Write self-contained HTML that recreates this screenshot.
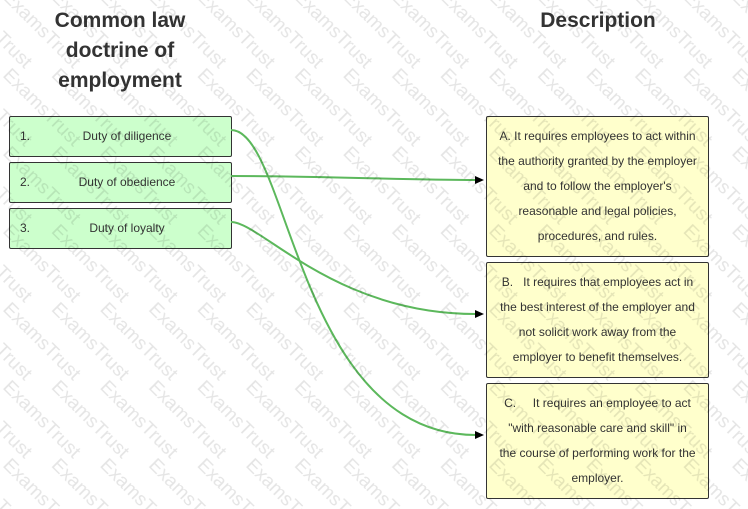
<!DOCTYPE html>
<html>
<head>
<meta charset="utf-8">
<style>
  html, body { margin:0; padding:0; background:#fff; }
  body { width:748px; height:509px; position:relative; overflow:hidden;
         font-family:"Liberation Sans", Arial, sans-serif; color:#333; }
  .hdr { position:absolute; font-weight:bold; font-size:21px; line-height:30px;
         text-align:center; color:#333; white-space:nowrap; }
  .lb { position:absolute; left:9px; width:223px; height:41px; box-sizing:border-box;
        background:#ccffcc; border:1px solid #333; border-radius:2px; font-size:12px; }
  .lb .n { position:absolute; left:10px; top:0; line-height:39px; }
  .lb .t { position:absolute; left:22px; width:190px; top:0; line-height:39px; text-align:center; white-space:nowrap; }
  .rb { position:absolute; left:486px; width:223px; box-sizing:border-box;
        background:#ffffcc; border:1px solid #333; border-radius:2px; font-size:12px;
        line-height:25px; text-align:center; white-space:nowrap;
        display:flex; align-items:center; justify-content:center; color:#333; }
  svg { position:absolute; left:0; top:0; }
</style>
</head>
<body>
  <div class="hdr" style="left:0; width:240px; top:6px;">Common law<br>doctrine of<br>employment</div>
  <div class="hdr" style="left:498px; width:200px; top:6px;">Description</div>

  <div class="lb" style="top:116px;"><span class="n">1.</span><span class="t">Duty of diligence</span></div>
  <div class="lb" style="top:162px;"><span class="n">2.</span><span class="t">Duty of obedience</span></div>
  <div class="lb" style="top:208px;"><span class="n">3.</span><span class="t">Duty of loyalty</span></div>

  <div class="rb" style="top:116px; height:141px;"><div>A. It requires employees to act within<br>the authority granted by the employer<br>and to follow the employer's<br>reasonable and legal policies,<br>procedures, and rules.</div></div>
  <div class="rb" style="top:262px; height:116px;"><div>B.&nbsp;&nbsp; It requires that employees act in<br>the best interest of the employer and<br>not solicit work away from the<br>employer to benefit themselves.</div></div>
  <div class="rb" style="top:383px; height:116px;"><div>C.&nbsp;&nbsp;&nbsp;&nbsp; It requires an employee to act<br>"with reasonable care and skill" in<br>the course of performing work for the<br>employer.</div></div>

  <svg width="748" height="509" viewBox="0 0 748 509">
    <g fill="none" stroke="#5cb85c" stroke-width="2">
      <path d="M231,130 C289,130 297,435 476,435"/>
      <path d="M231,176 C330,176 400,180 476,180"/>
      <path d="M231,222 C261,222 334,314 476,314"/>
    </g>
    <g fill="#000">
      <polygon points="475,176 484,180 475,184"/>
      <polygon points="475,310 484,314 475,318"/>
      <polygon points="475,431 484,435 475,439"/>
    </g>
  </svg>

  <svg width="748" height="509" viewBox="0 0 748 509" style="pointer-events:none;">
    <defs>
      <pattern id="wm" patternUnits="userSpaceOnUse" x="2" y="310" width="48.6" height="78">
        <g font-family="Liberation Sans, Arial, sans-serif" font-size="19" fill="#000" fill-opacity="0.1">
          <text transform="translate(0,0) rotate(45)">ExamsTrust</text>
          <text transform="translate(-48.6,0) rotate(45)">ExamsTrust</text>
          <text transform="translate(0,78) rotate(45)">ExamsTrust</text>
          <text transform="translate(-48.6,78) rotate(45)">ExamsTrust</text>
          <text transform="translate(0,-78) rotate(45)">ExamsTrust</text>
          <text transform="translate(-48.6,-78) rotate(45)">ExamsTrust</text>
        </g>
      </pattern>
    </defs>
    <rect x="0" y="0" width="748" height="509" fill="url(#wm)"/>
  </svg>
</body>
</html>
